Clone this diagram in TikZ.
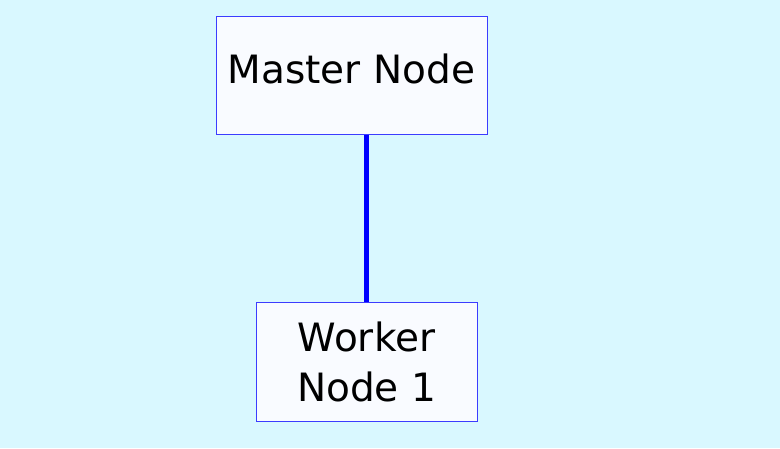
\documentclass[tikz,border=0pt]{standalone}
\usepackage{fontspec}
\setmainfont{DejaVu Sans}
\usetikzlibrary{positioning,calc}
\definecolor{bgcolor}{RGB}{217,248,255}
\definecolor{boxcolor}{RGB}{249,251,255}
\definecolor{edgecolor}{RGB}{60,60,255}
\definecolor{linkcolor}{RGB}{0,0,255}

\begin{document}
\begin{tikzpicture}[
    x=1pt, y=-1pt,
    machine/.style={rectangle, draw=edgecolor, line width=1pt, fill=boxcolor, inner sep=0pt, align=center, font=\fontsize{39}{50}\selectfont},
    link/.style={draw=linkcolor, line width=5.5pt}
]

% Background
\fill[bgcolor] (0,0) rectangle (780,448);
\useasboundingbox (0,0) rectangle (780,448);

% Master
\node[machine, minimum width=271pt, minimum height=118pt, text depth=13pt] (master) at (351.5,75) {Master Node};

% Worker
\node[machine, minimum width=221pt, minimum height=119pt] (worker) at (366.5,361.5) {Worker\\Node 1};

% Connector
\draw[link] (master.south -| worker.north) -- (worker.north);

\end{tikzpicture}
\end{document}
